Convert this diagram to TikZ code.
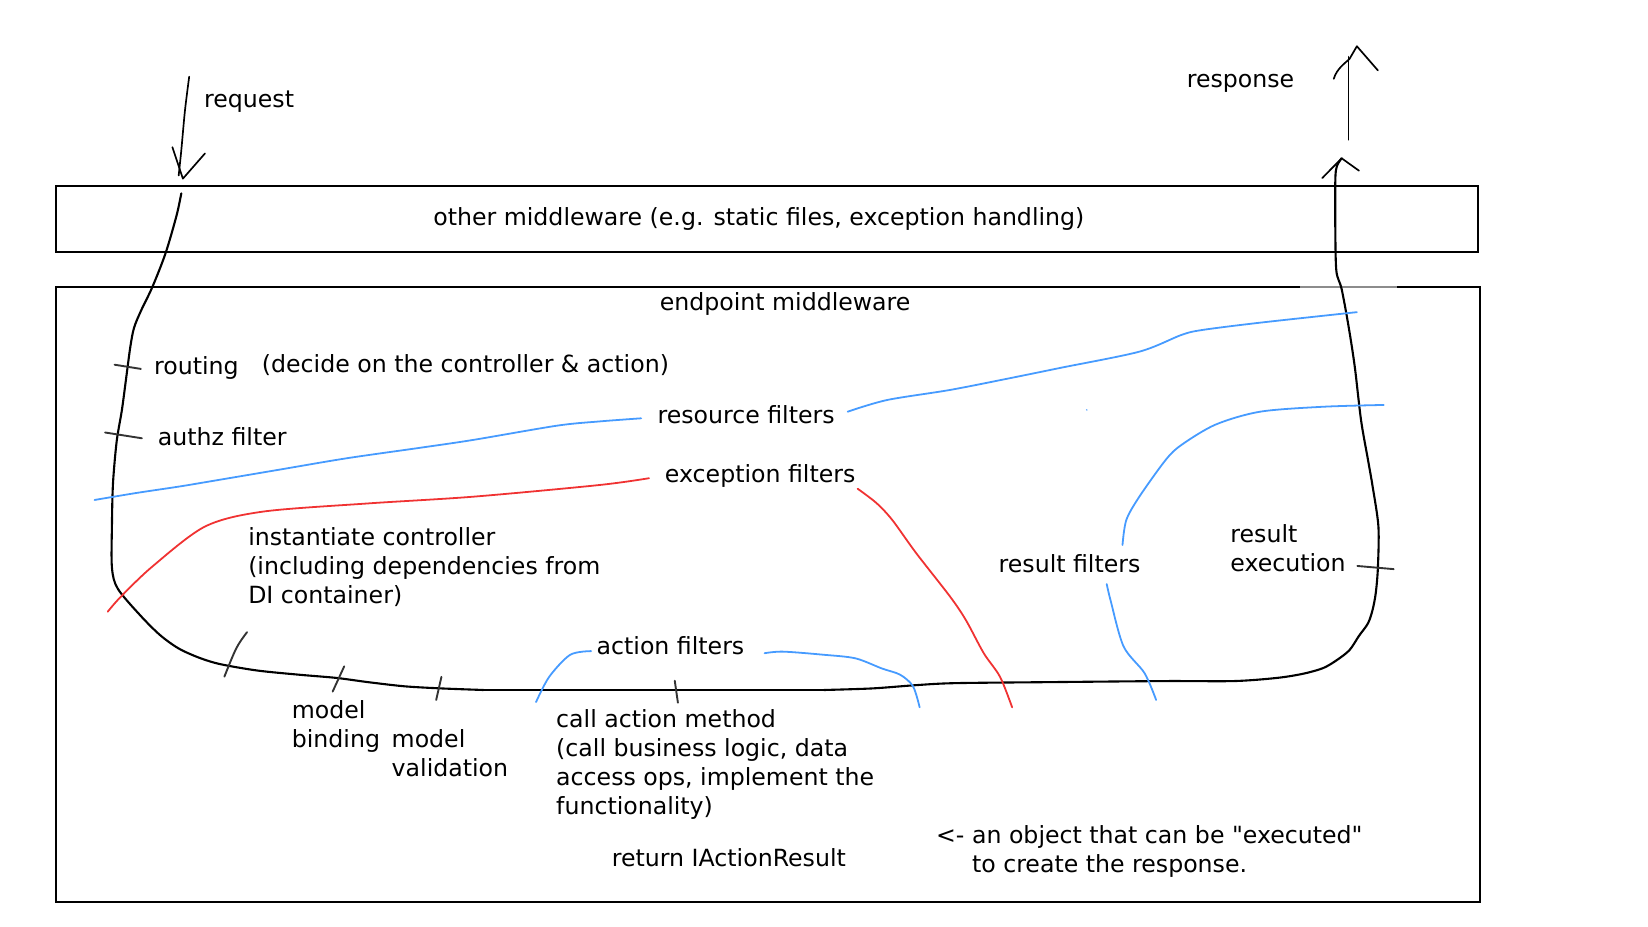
\documentclass[tikz,border=0pt]{standalone}
\usepackage{fontspec}
\setmainfont{DejaVu Sans}
\definecolor{penblue}{RGB}{70,155,255}
\definecolor{penred}{RGB}{240,50,50}
\tikzset{
  lbl/.style={anchor=base west, inner sep=0pt, font=\fontsize{22.5}{27.7}\selectfont},
  mlbl/.style={anchor=north west, inner sep=0pt, align=left, font=\fontsize{22.5}{27.7}\selectfont},
  boxline/.style={draw=black, line width=2pt},
  flow/.style={draw=black, line width=2pt, line cap=round, line join=round},
  tick/.style={draw=black!80, line width=1.8pt, line cap=round},
  bluepen/.style={draw=penblue, line width=1.7pt, line cap=round},
  redpen/.style={draw=penred, line width=1.7pt, line cap=round},
}
\begin{document}
\begin{tikzpicture}[x=1pt,y=-1pt]
\useasboundingbox (0,0) rectangle (1568,882);
\fill[white] (0,0) rectangle (1568,882);

% boxes
\draw[boxline] (53,177) rectangle (1406,240);
\draw[boxline] (53,273) rectangle (1408,858);
\draw[draw=black!45, line width=2pt] (1237,273) -- (1329,273);

% box labels
\node[lbl, anchor=base] (other) at (722,215) {other middleware (e.g. static files, exception handling)};
\node[lbl, anchor=base] (endpoint) at (747,295) {endpoint middleware};

% request arrow
\draw[flow, line width=1.6pt] plot[smooth] coordinates {(180,73) (176,105) (172.5,143) (170,167)};
\draw[flow, line width=1.6pt] (164,140) -- (174,170) -- (195,146);
\node[lbl] (request) at (194,102) {request};

% response arrow
\draw[flow, line width=1.6pt] (1283,133) -- (1283,54);
\draw[flow, line width=1.6pt] (1269,75) .. controls (1272,65) and (1280,60) .. (1284,56) -- (1291,44) -- (1311,67);
\node[lbl] (response) at (1129,83) {response};

% main flow path
\draw[flow] plot[smooth, tension=0.5] coordinates {
 (172.5,184) (168,205) (157.5,241) (145,273) (134,296) (127.5,312) (124,330)
 (120,360) (116,390) (111,420) (107.5,460) (106.5,500) (106.5,540) (112,560)
 (133,585) (152,604) (170,617) (190,626) (210,632) (245,638) (285,642)
 (320,645) (350,649) (385,653) (420,655) (460,656.5)};
\draw[flow] (460,656.5) -- (784,656.5);
\draw[flow] plot[smooth, tension=0.5] coordinates {
 (784,656.5) (830,655) (870,652) (908,650) (1000,649) (1109,648) (1174,648)
 (1215,645) (1240,641) (1259,635.6) (1272,628) (1284,618.5) (1293,605)
 (1301.6,593) (1306,580) (1309,564) (1311,540) (1311.5,501) (1306,463)
 (1301.6,437.7) (1295,400) (1289,349) (1283,310) (1276.5,275) (1271.5,258)
 (1270.5,220) (1270.5,171) (1272,158) (1276.5,150.6)};
\draw[flow, line width=1.6pt] (1258,169.5) -- (1276.5,150.6) -- (1293,162.4);

% ticks
\draw[tick] (109,347) -- (134,351);
\draw[tick] (100,411.5) -- (135,417);
\draw[tick] (235,601.5) .. controls (225,615) .. (213.5,643.8);
\draw[tick] (327.5,634) -- (316.5,658);
\draw[tick] (420,644) -- (415,666);
\draw[tick] (642,647.7) -- (645,668.6);
\draw[tick] (1291.5,538.5) -- (1326,541.5);

% blue: resource filters
\draw[bluepen] plot[smooth] coordinates {(90,475.7) (130,469) (170,463) (200,458) (265,447) (330,436) (400,426) (450,418.6) (530,405) (570,401) (610,398)};
\draw[bluepen] plot[smooth] coordinates {(806.5,391.7) (844,380.6) (904,371) (960,360) (1009,350) (1084,334.6) (1124,318.7) (1143.7,314) (1199,307) (1291,297)};
\fill[penblue] (1034,390) circle (0.8);
% blue: result filters
\draw[bluepen] plot[smooth] coordinates {(1068,518.6) (1071.6,494.8) (1084,472.6) (1109,437.7) (1124,423.4) (1156.5,404) (1199,391.7) (1259,387) (1316.5,385.3)};
\draw[bluepen] plot[smooth] coordinates {(1053,555.7) (1056.6,571) (1069,615) (1089,640.5) (1100,666)};
% blue: action filters
\draw[bluepen] plot[smooth] coordinates {(510,668) (522.5,644) (542.5,623) (562.5,619.5)};
\draw[bluepen] plot[smooth] coordinates {(727.5,621.5) (745,620) (784,623) (814,626.4) (839,636) (856.5,642) (868.7,653) (875,673)};

% red: exception filters
\draw[redpen] plot[smooth] coordinates {(102.5,582) (115,567.7) (145,539) (195,501) (250,486.8) (350,479) (450,472.6) (570,461.5) (617.5,455)};
\draw[redpen] plot[smooth] coordinates {(816,465) (834,478.7) (849,494.8) (871.5,526) (904,567.7) (919,590) (936,621.5) (951.5,644) (963,673)};

% labels
\node[lbl] (routing) at (146.5,356) {routing};
\node[lbl] (decide) at (249,354) {(decide on the controller \& action)};
\node[lbl] (authz) at (150,423.4) {authz filter};
\node[lbl] (resource) at (625.4,403.4) {resource filters};
\node[lbl] (exception) at (632.5,459.5) {exception filters};
\node[mlbl] (instantiate) at (236,501.5) {instantiate controller\\(including dependencies from\\DI container)};
\node[lbl] (action) at (567.5,623) {action filters};
\node[mlbl] (binding) at (277.5,666.5) {model\\binding};
\node[mlbl] (validation) at (372.5,694) {model\\validation};
\node[mlbl] (callaction) at (529,674.5) {call action method\\(call business logic, data\\access ops, implement the\\functionality)};
\node[lbl] (returnres) at (582,824.6) {return IActionResult};
\node[lbl] (resfilters) at (950,545) {result filters};
\node[mlbl] (resexec) at (1170.5,498.5) {result\\execution};
\node[mlbl] (object) at (890.5,785.5) {<- an object that can be \textquotedbl executed\textquotedbl\\\hphantom{<- }to create the response.};
\end{tikzpicture}
\end{document}
